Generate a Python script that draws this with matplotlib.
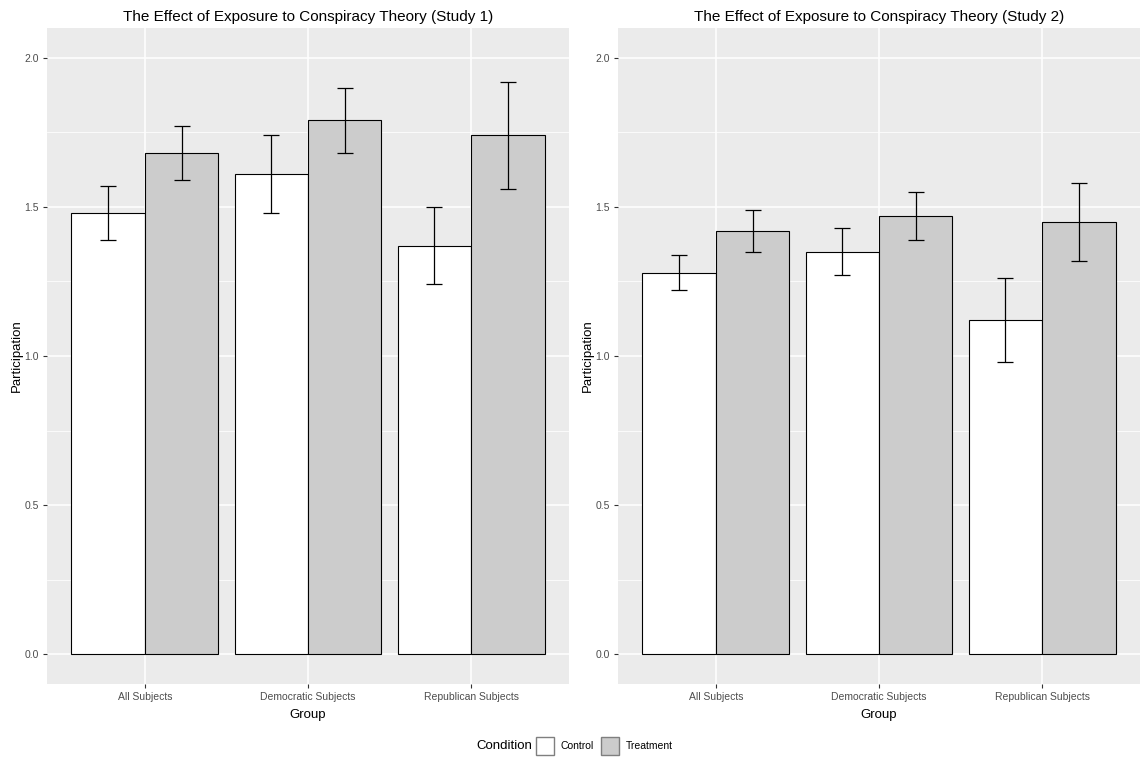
import matplotlib.pyplot as plt
import numpy as np
from matplotlib.patches import Patch

plt.rcParams["font.family"] = ["Liberation Sans", "DejaVu Sans"]

groups = ["All Subjects", "Democratic Subjects", "Republican Subjects"]
conditions = ["Control", "Treatment"]
fills = ["#FFFFFF", "#CCCCCC"]

# study 1: means and error bar bounds per condition
s1_control = [1.48, 1.61, 1.37]
s1_control_lo = [1.39, 1.48, 1.24]
s1_control_hi = [1.57, 1.74, 1.50]
s1_treat = [1.68, 1.79, 1.74]
s1_treat_lo = [1.59, 1.68, 1.56]
s1_treat_hi = [1.77, 1.90, 1.92]

# study 2
s2_control = [1.28, 1.35, 1.12]
s2_control_lo = [1.22, 1.27, 0.98]
s2_control_hi = [1.34, 1.43, 1.26]
s2_treat = [1.42, 1.47, 1.45]
s2_treat_lo = [1.35, 1.39, 1.32]
s2_treat_hi = [1.49, 1.55, 1.58]

W, H = 1141, 757
fig = plt.figure(figsize=(W / 100, H / 100), dpi=100)


def px_axes(x0, y0, x1, y1):
    return fig.add_axes([x0 / W, 1 - y1 / H, (x1 - x0) / W, (y1 - y0) / H])


def panel(ax, title, means, los, his):
    x = np.arange(len(groups))
    bw = 0.45
    for k in range(2):
        xs = x + (k - 0.5) * bw
        m = np.array(means[k])
        ax.bar(xs, m, width=bw, color=fills[k], edgecolor="black", linewidth=0.8, zorder=3)
        yerr = np.vstack([m - np.array(los[k]), np.array(his[k]) - m])
        ax.errorbar(xs, m, yerr=yerr, fmt="none", ecolor="black", elinewidth=0.9,
                    capsize=5.5, capthick=0.9, zorder=4)

    ax.set_facecolor("#EBEBEB")
    ax.set_xlim(-0.6, 2.6)
    ax.set_ylim(-0.1, 2.1)
    ax.set_xticks(x)
    ax.set_xticklabels(groups)
    ax.set_yticks([0, 0.5, 1.0, 1.5, 2.0])
    ax.set_yticklabels(["0.0", "0.5", "1.0", "1.5", "2.0"])
    ax.set_yticks([0.25, 0.75, 1.25, 1.75], minor=True)
    ax.grid(which="major", color="white", linewidth=1.1, zorder=0)
    ax.grid(which="minor", axis="y", color="white", linewidth=0.55, zorder=0)
    ax.set_axisbelow(True)
    for s in ax.spines.values():
        s.set_visible(False)
    ax.tick_params(axis="both", which="major", colors="#333333", labelcolor="#4D4D4D",
                   labelsize=7.5, length=3, width=0.8, pad=3)
    ax.tick_params(which="minor", length=0)
    ax.set_title(title, fontsize=11, color="black", pad=5)
    ax.set_xlabel("Group", fontsize=9.5, labelpad=5)
    ax.set_ylabel("Participation", fontsize=9.5, labelpad=1)


ax1 = px_axes(47, 28, 569, 684)
panel(ax1, "The Effect of Exposure to Conspiracy Theory (Study 1)",
      [s1_control, s1_treat], [s1_control_lo, s1_treat_lo], [s1_control_hi, s1_treat_hi])

ax2 = px_axes(618, 28, 1140, 684)
panel(ax2, "The Effect of Exposure to Conspiracy Theory (Study 2)",
      [s2_control, s2_treat], [s2_control_lo, s2_treat_lo], [s2_control_hi, s2_treat_hi])

# shared legend along the bottom
fig.text(476 / W, 1 - 746 / H, "Condition", fontsize=9.5, va="center", ha="left")
handles = [Patch(facecolor=fills[k], edgecolor="#7F7F7F", linewidth=1.0, label=conditions[k])
           for k in range(2)]
fig.legend(handles=handles, ncol=2, loc="center left", bbox_to_anchor=(536 / W, 1 - 746 / H),
           frameon=False, fontsize=7.5, handlelength=1.75, handleheight=2.3,
           handletextpad=0.6, columnspacing=0.7, borderaxespad=0, borderpad=0)

fig.savefig("out.png", dpi=100)
